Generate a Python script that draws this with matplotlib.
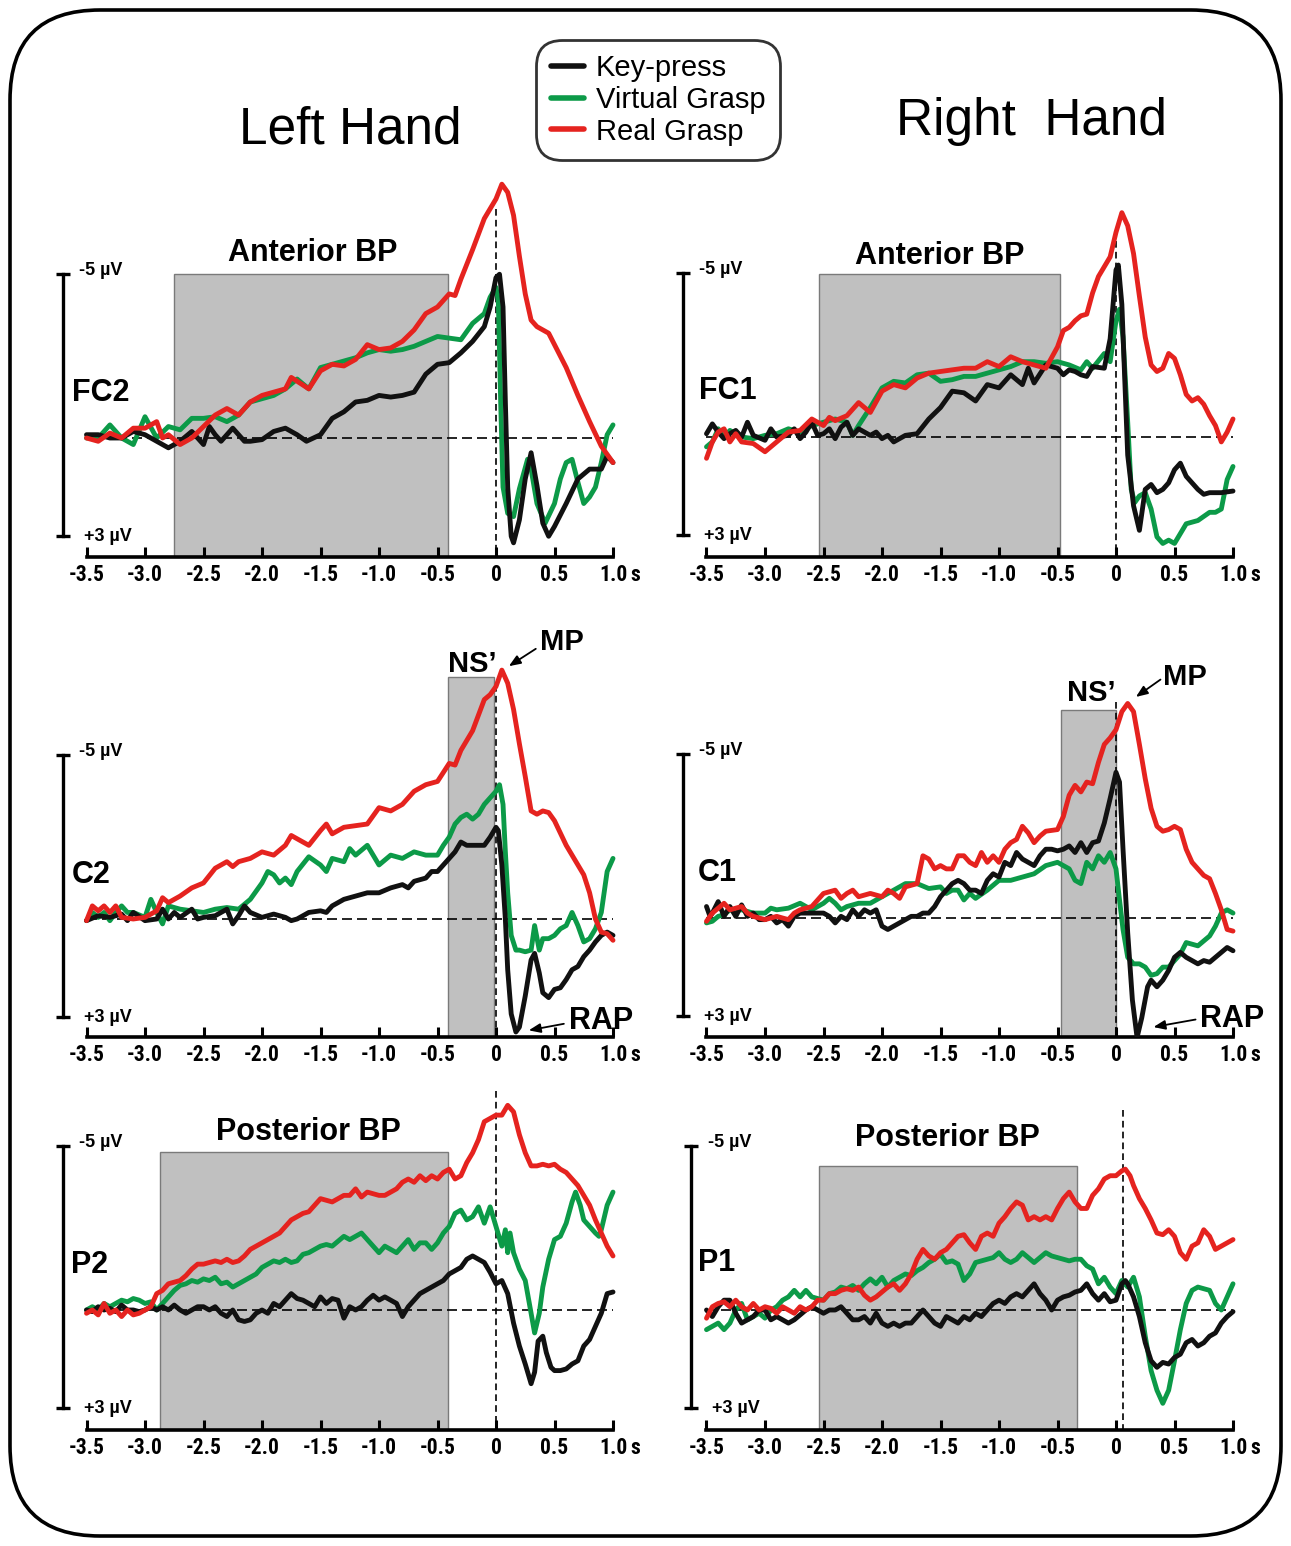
import os
import numpy as np
import matplotlib
matplotlib.use("Agg")
import matplotlib.pyplot as plt
from matplotlib import font_manager
from matplotlib.font_manager import FontProperties
from matplotlib.patches import FancyBboxPatch, Rectangle

W, H = 1291, 1546
names = {f.name for f in font_manager.fontManager.ttflist}
SANS = 'Liberation Sans' if 'Liberation Sans' in names else 'DejaVu Sans'
plt.rcParams['font.family'] = SANS


def narrow_bold():
    # a condensed bold face for the tick labels (the original uses Arial Narrow Bold)
    files = [f.fname for f in font_manager.fontManager.ttflist]
    for key in ['liberationsansnarrow-bold.', 'robotocondensed-bold.', 'firasanscondensed-bold.',
                'asapcondensed-bold.', 'dejavusanscondensed-bold.']:
        for fn in files:
            if os.path.basename(fn).lower().startswith(key):
                return fn
    return None


NARROW_FILE = narrow_bold()


def tick_font(size):
    if NARROW_FILE:
        return FontProperties(fname=NARROW_FILE, size=size)
    return FontProperties(family=SANS, weight='bold', size=size - 1.5)


BLACK = '#111111'
GREEN = '#0c9a48'
RED = '#e5231f'

series_names = ['Key-press', 'Virtual Grasp', 'Real Grasp']
tick_values = [-3.5, -3.0, -2.5, -2.0, -1.5, -1.0, -0.5, 0.0, 0.5, 1.0]
tick_labels = ['-3.5', '-3.0', '-2.5', '-2.0', '-1.5', '-1.0', '-0.5', '0', '0.5', '1.0']

# ---- traces: (time s, amplitude uV), negative is plotted up ----
fc2_key = [(-3.5, -0.1), (-3.4, -0.1), (-3.3, 0.0), (-3.2, 0.0), (-3.1, -0.2), (-3.0, -0.1), (-2.9, 0.1), (-2.8, 0.3),
           (-2.7, 0.1), (-2.6, -0.2), (-2.5, 0.2), (-2.45, -0.35), (-2.4, -0.1), (-2.35, 0.1), (-2.25, -0.3), (-2.15, 0.1),
           (-2.1, 0.1), (-2.0, 0.05), (-1.9, -0.2), (-1.8, -0.3), (-1.7, -0.1), (-1.62, 0.1), (-1.5, -0.1), (-1.4, -0.6),
           (-1.3, -0.8), (-1.2, -1.1), (-1.1, -1.15), (-1.0, -1.3), (-0.9, -1.25), (-0.8, -1.3), (-0.7, -1.4), (-0.6, -1.95),
           (-0.5, -2.25), (-0.4, -2.3), (-0.3, -2.6), (-0.2, -2.95), (-0.1, -3.4), (-0.05, -4.0), (0.0, -4.9), (0.03, -5.0),
           (0.06, -4.0), (0.08, -1.1), (0.1, 1.5), (0.13, 3.0), (0.15, 3.2), (0.2, 2.5), (0.25, 1.25), (0.3, 0.45),
           (0.35, 1.45), (0.4, 2.6), (0.45, 3.0), (0.5, 2.7), (0.6, 2.0), (0.7, 1.25), (0.8, 0.95), (0.9, 0.95),
           (0.95, 0.55), (1.0, 0.75)]
fc2_virtual = [(-3.5, 0.0), (-3.4, 0.0), (-3.3, -0.4), (-3.2, 0.0), (-3.1, 0.2), (-3.0, -0.65), (-2.9, 0.0), (-2.8, -0.35),
               (-2.7, -0.25), (-2.6, -0.6), (-2.5, -0.6), (-2.4, -0.65), (-2.3, -0.5), (-2.2, -0.7), (-2.1, -1.1), (-2.0, -1.2),
               (-1.9, -1.3), (-1.8, -1.5), (-1.7, -1.8), (-1.6, -1.5), (-1.5, -2.15), (-1.4, -2.25), (-1.3, -2.35), (-1.2, -2.45),
               (-1.1, -2.6), (-1.0, -2.7), (-0.9, -2.65), (-0.8, -2.7), (-0.7, -2.8), (-0.6, -2.95), (-0.5, -3.1), (-0.4, -3.05),
               (-0.3, -3.0), (-0.2, -3.5), (-0.1, -3.8), (-0.05, -4.3), (0.0, -4.6), (0.02, -4.2), (0.04, -1.1), (0.06, 1.5),
               (0.1, 2.3), (0.15, 2.4), (0.2, 1.55), (0.27, 0.65), (0.3, 0.95), (0.35, 2.0), (0.42, 2.6), (0.5, 2.0),
               (0.55, 1.25), (0.6, 0.75), (0.65, 0.65), (0.7, 1.35), (0.75, 2.0), (0.8, 1.8), (0.85, 1.5), (0.9, 0.75),
               (0.95, -0.1), (1.0, -0.4)]
fc2_real = [(-3.5, 0.0), (-3.4, 0.1), (-3.3, -0.15), (-3.2, 0.0), (-3.1, -0.3), (-3.0, -0.3), (-2.9, -0.5), (-2.85, 0.0),
            (-2.8, -0.1), (-2.7, 0.2), (-2.6, 0.0), (-2.5, -0.35), (-2.4, -0.7), (-2.3, -0.9), (-2.2, -0.7), (-2.1, -1.1),
            (-2.0, -1.3), (-1.9, -1.4), (-1.8, -1.5), (-1.75, -1.85), (-1.6, -1.5), (-1.5, -2.05), (-1.4, -2.25), (-1.3, -2.2),
            (-1.2, -2.4), (-1.1, -2.85), (-1.0, -2.7), (-0.9, -2.75), (-0.8, -2.95), (-0.7, -3.3), (-0.6, -3.8), (-0.5, -4.0),
            (-0.4, -4.4), (-0.35, -4.35), (-0.3, -4.85), (-0.2, -5.75), (-0.1, -6.7), (0.0, -7.3), (0.05, -7.75), (0.1, -7.5),
            (0.15, -6.8), (0.2, -5.55), (0.25, -4.4), (0.3, -3.6), (0.35, -3.4), (0.4, -3.3), (0.45, -3.2), (0.5, -2.85),
            (0.6, -2.15), (0.7, -1.3), (0.8, -0.5), (0.9, 0.25), (1.0, 0.75)]

fc1_key = [(-3.5, -0.1), (-3.45, -0.4), (-3.4, -0.15), (-3.35, 0.05), (-3.3, -0.1), (-3.25, -0.2), (-3.2, 0.0), (-3.15, -0.45),
           (-3.1, -0.05), (-3.0, 0.1), (-2.95, -0.25), (-2.9, 0.0), (-2.8, -0.05), (-2.75, -0.25), (-2.7, 0.05), (-2.65, -0.15),
           (-2.6, -0.45), (-2.55, -0.05), (-2.5, -0.1), (-2.45, -0.25), (-2.4, 0.05), (-2.35, -0.3), (-2.3, -0.45), (-2.25, -0.05),
           (-2.2, -0.25), (-2.1, -0.05), (-2.05, -0.15), (-2.0, 0.05), (-1.95, -0.05), (-1.9, 0.15), (-1.8, -0.05), (-1.7, -0.1),
           (-1.6, -0.55), (-1.5, -0.9), (-1.4, -1.4), (-1.3, -1.35), (-1.2, -1.1), (-1.1, -1.6), (-1.0, -1.5), (-0.9, -1.9),
           (-0.8, -1.6), (-0.75, -2.1), (-0.7, -1.65), (-0.6, -2.2), (-0.5, -2.1), (-0.45, -1.9), (-0.4, -2.05), (-0.35, -2.0),
           (-0.3, -1.9), (-0.25, -1.85), (-0.2, -2.15), (-0.1, -2.1), (-0.05, -3.0), (0.0, -5.1), (0.02, -5.25), (0.05, -4.05),
           (0.1, 0.55), (0.15, 2.1), (0.2, 2.85), (0.25, 1.6), (0.3, 1.45), (0.35, 1.7), (0.4, 1.6), (0.45, 1.4), (0.5, 1.0),
           (0.55, 0.8), (0.6, 1.2), (0.7, 1.6), (0.75, 1.75), (0.8, 1.7), (0.9, 1.7), (1.0, 1.65)]
fc1_virtual = [(-3.5, 0.3), (-3.45, 0.15), (-3.4, -0.25), (-3.35, 0.0), (-3.3, -0.2), (-3.2, 0.0), (-3.1, 0.05), (-3.0, -0.05),
               (-2.9, -0.1), (-2.8, -0.25), (-2.7, -0.15), (-2.6, -0.35), (-2.5, -0.45), (-2.4, -0.55), (-2.3, -0.45), (-2.25, -0.05),
               (-2.2, -0.35), (-2.1, -0.9), (-2.0, -1.5), (-1.9, -1.7), (-1.8, -1.65), (-1.7, -1.9), (-1.6, -1.95), (-1.5, -1.7),
               (-1.4, -1.75), (-1.3, -1.85), (-1.2, -1.85), (-1.1, -1.95), (-1.0, -2.05), (-0.9, -2.15), (-0.8, -2.3), (-0.7, -2.3),
               (-0.6, -2.25), (-0.5, -2.3), (-0.4, -2.2), (-0.3, -2.05), (-0.25, -2.3), (-0.2, -2.1), (-0.1, -2.55), (-0.05, -2.3),
               (0.0, -3.55), (0.03, -3.9), (0.06, -3.05), (0.1, -0.45), (0.13, 1.6), (0.16, 2.0), (0.2, 1.8), (0.25, 1.7),
               (0.3, 2.2), (0.35, 3.05), (0.4, 3.25), (0.45, 3.15), (0.5, 3.25), (0.55, 2.95), (0.6, 2.65), (0.7, 2.55),
               (0.8, 2.3), (0.85, 2.3), (0.9, 2.2), (0.95, 1.3), (1.0, 0.9)]
fc1_real = [(-3.5, 0.65), (-3.45, 0.15), (-3.4, -0.15), (-3.35, -0.25), (-3.3, 0.15), (-3.25, -0.1), (-3.2, 0.15), (-3.1, 0.2),
            (-3.0, 0.45), (-2.9, 0.15), (-2.8, -0.15), (-2.7, -0.2), (-2.6, -0.55), (-2.5, -0.35), (-2.45, -0.6), (-2.4, -0.5),
            (-2.3, -0.65), (-2.2, -1.05), (-2.1, -0.75), (-2.0, -1.4), (-1.9, -1.6), (-1.8, -1.5), (-1.7, -1.8), (-1.6, -1.95),
            (-1.5, -2.0), (-1.4, -2.05), (-1.3, -2.1), (-1.2, -2.1), (-1.1, -2.3), (-1.0, -2.15), (-0.9, -2.45), (-0.8, -2.3),
            (-0.7, -2.2), (-0.6, -2.1), (-0.5, -2.75), (-0.45, -3.25), (-0.4, -3.35), (-0.35, -3.55), (-0.3, -3.7), (-0.25, -3.75),
            (-0.2, -4.4), (-0.15, -4.9), (-0.1, -5.2), (-0.05, -5.5), (0.0, -6.25), (0.05, -6.85), (0.1, -6.45), (0.15, -5.6),
            (0.2, -4.3), (0.25, -3.05), (0.3, -2.2), (0.35, -2.0), (0.4, -2.1), (0.45, -2.55), (0.5, -2.4), (0.55, -1.9),
            (0.6, -1.3), (0.65, -1.1), (0.7, -1.2), (0.75, -1.0), (0.8, -0.65), (0.85, -0.35), (0.9, 0.15), (0.95, -0.15),
            (1.0, -0.55)]

c2_key = [(-3.5, 0.05), (-3.4, -0.1), (-3.3, -0.05), (-3.2, -0.15), (-3.15, 0.05), (-3.1, -0.2), (-3.0, 0.05), (-2.9, 0.0),
          (-2.85, -0.3), (-2.8, 0.0), (-2.75, -0.2), (-2.7, -0.05), (-2.6, -0.3), (-2.55, 0.0), (-2.5, -0.05), (-2.4, -0.1),
          (-2.3, -0.3), (-2.25, 0.15), (-2.2, -0.1), (-2.15, -0.4), (-2.1, -0.2), (-2.0, -0.05), (-1.9, -0.15), (-1.8, -0.05),
          (-1.75, 0.05), (-1.7, 0.0), (-1.6, -0.2), (-1.5, -0.25), (-1.45, -0.2), (-1.4, -0.4), (-1.3, -0.6), (-1.2, -0.7),
          (-1.1, -0.8), (-1.0, -0.8), (-0.9, -0.95), (-0.8, -1.05), (-0.75, -0.95), (-0.7, -1.15), (-0.6, -1.25), (-0.55, -1.45),
          (-0.5, -1.45), (-0.45, -1.65), (-0.4, -1.85), (-0.35, -2.05), (-0.3, -2.35), (-0.25, -2.25), (-0.2, -2.25), (-0.1, -2.25),
          (-0.05, -2.5), (0.0, -2.8), (0.02, -2.7), (0.05, -1.65), (0.08, 0.0), (0.1, 1.55), (0.13, 2.9), (0.17, 3.45),
          (0.2, 3.3), (0.25, 2.35), (0.3, 1.25), (0.33, 1.05), (0.37, 1.65), (0.4, 2.25), (0.45, 2.4), (0.5, 2.15),
          (0.55, 2.1), (0.6, 1.85), (0.65, 1.55), (0.7, 1.45), (0.75, 1.15), (0.8, 0.95), (0.85, 0.7), (0.9, 0.5),
          (0.95, 0.4), (1.0, 0.5)]
c2_virtual = [(-3.5, 0.05), (-3.45, -0.2), (-3.4, -0.05), (-3.35, -0.2), (-3.3, 0.05), (-3.25, -0.2), (-3.2, -0.4), (-3.15, -0.2),
              (-3.1, -0.2), (-3.0, -0.05), (-2.95, -0.6), (-2.9, -0.2), (-2.85, 0.15), (-2.8, -0.4), (-2.7, -0.3), (-2.6, -0.25),
              (-2.5, -0.2), (-2.4, -0.3), (-2.3, -0.35), (-2.2, -0.3), (-2.1, -0.6), (-2.0, -1.1), (-1.95, -1.45), (-1.9, -1.35),
              (-1.85, -1.1), (-1.8, -1.25), (-1.75, -1.05), (-1.7, -1.45), (-1.6, -1.9), (-1.5, -1.65), (-1.45, -1.45), (-1.4, -1.85),
              (-1.3, -1.75), (-1.25, -2.15), (-1.2, -1.95), (-1.1, -2.25), (-1.0, -1.65), (-0.9, -1.95), (-0.8, -1.85), (-0.7, -2.05),
              (-0.6, -1.95), (-0.5, -1.95), (-0.45, -2.25), (-0.4, -2.5), (-0.35, -2.9), (-0.3, -3.1), (-0.25, -3.2), (-0.2, -3.05),
              (-0.15, -3.2), (-0.1, -3.5), (-0.05, -3.7), (0.0, -3.9), (0.03, -4.1), (0.06, -3.5), (0.08, -2.05), (0.1, -0.8),
              (0.13, 0.5), (0.17, 0.95), (0.2, 0.95), (0.25, 1.0), (0.3, 0.95), (0.33, 0.2), (0.37, 0.95), (0.4, 0.6),
              (0.45, 0.6), (0.5, 0.5), (0.55, 0.3), (0.6, 0.2), (0.65, -0.2), (0.7, 0.2), (0.75, 0.7), (0.8, 0.6),
              (0.85, 0.3), (0.9, -0.2), (0.95, -1.45), (1.0, -1.85)]
c2_real = [(-3.5, 0.05), (-3.45, -0.4), (-3.4, -0.25), (-3.35, -0.4), (-3.3, -0.2), (-3.25, -0.4), (-3.2, -0.05), (-3.1, 0.0),
           (-3.0, -0.05), (-2.9, -0.25), (-2.85, -0.65), (-2.8, -0.5), (-2.7, -0.7), (-2.6, -0.95), (-2.5, -1.1), (-2.4, -1.55),
           (-2.3, -1.75), (-2.25, -1.6), (-2.2, -1.75), (-2.1, -1.85), (-2.0, -2.05), (-1.9, -1.95), (-1.8, -2.25), (-1.75, -2.55),
           (-1.7, -2.45), (-1.6, -2.25), (-1.5, -2.7), (-1.45, -2.9), (-1.4, -2.6), (-1.3, -2.8), (-1.2, -2.85), (-1.1, -2.9),
           (-1.0, -3.4), (-0.9, -3.3), (-0.8, -3.5), (-0.7, -3.9), (-0.6, -4.1), (-0.5, -4.2), (-0.4, -4.75), (-0.35, -4.7),
           (-0.3, -5.15), (-0.2, -5.75), (-0.1, -6.7), (-0.05, -6.85), (0.0, -7.1), (0.05, -7.6), (0.1, -7.2), (0.15, -6.4),
           (0.2, -5.35), (0.25, -4.35), (0.3, -3.3), (0.35, -3.2), (0.4, -3.3), (0.45, -3.25), (0.5, -3.0), (0.6, -2.25),
           (0.7, -1.65), (0.75, -1.35), (0.8, -0.8), (0.85, 0.0), (0.9, 0.4), (0.95, 0.45), (1.0, 0.65)]

c1_key = [(-3.5, -0.35), (-3.47, -0.05), (-3.45, -0.15), (-3.4, -0.5), (-3.35, -0.05), (-3.3, -0.35), (-3.25, -0.05), (-3.2, -0.4),
          (-3.15, -0.05), (-3.1, -0.15), (-3.05, 0.05), (-3.0, 0.05), (-2.95, -0.05), (-2.9, 0.15), (-2.85, 0.05), (-2.8, 0.25),
          (-2.75, -0.05), (-2.7, -0.15), (-2.6, -0.15), (-2.5, -0.15), (-2.45, -0.05), (-2.4, 0.15), (-2.35, -0.05), (-2.3, 0.05),
          (-2.25, -0.25), (-2.2, -0.05), (-2.15, -0.25), (-2.1, -0.15), (-2.05, -0.25), (-2.0, 0.25), (-1.95, 0.35), (-1.9, 0.25),
          (-1.85, 0.15), (-1.8, 0.05), (-1.75, -0.05), (-1.7, -0.05), (-1.65, -0.15), (-1.6, -0.15), (-1.55, -0.35), (-1.5, -0.65),
          (-1.45, -0.85), (-1.4, -1.05), (-1.35, -1.15), (-1.3, -1.05), (-1.25, -0.85), (-1.2, -0.85), (-1.15, -0.75), (-1.1, -1.15),
          (-1.05, -1.35), (-1.0, -1.25), (-0.95, -1.7), (-0.9, -1.6), (-0.85, -2.0), (-0.8, -1.8), (-0.75, -1.7), (-0.7, -1.6),
          (-0.65, -1.9), (-0.6, -2.1), (-0.55, -2.1), (-0.5, -2.05), (-0.45, -2.1), (-0.4, -2.2), (-0.35, -2.0), (-0.3, -2.3),
          (-0.25, -2.0), (-0.2, -2.3), (-0.15, -2.35), (-0.1, -2.9), (-0.05, -3.65), (0.0, -4.45), (0.03, -4.15), (0.06, -2.1),
          (0.1, 0.45), (0.14, 2.5), (0.18, 3.65), (0.22, 3.05), (0.27, 2.1), (0.3, 1.9), (0.35, 2.1), (0.4, 1.9), (0.45, 1.6),
          (0.5, 1.2), (0.55, 1.05), (0.6, 1.2), (0.65, 1.3), (0.7, 1.4), (0.75, 1.3), (0.8, 1.35), (0.85, 1.2), (0.9, 1.05),
          (0.95, 0.9), (1.0, 1.0)]
c1_virtual = [(-3.5, 0.15), (-3.45, 0.1), (-3.4, -0.05), (-3.35, -0.1), (-3.3, -0.25), (-3.2, -0.25), (-3.1, -0.15), (-3.0, -0.15),
              (-2.95, -0.3), (-2.9, -0.25), (-2.8, -0.3), (-2.7, -0.45), (-2.6, -0.25), (-2.5, -0.45), (-2.45, -0.6), (-2.4, -0.45),
              (-2.35, -0.25), (-2.3, -0.35), (-2.2, -0.45), (-2.1, -0.45), (-2.0, -0.65), (-1.9, -0.85), (-1.8, -1.05), (-1.7, -1.05),
              (-1.6, -0.9), (-1.5, -0.95), (-1.45, -0.75), (-1.4, -0.85), (-1.35, -0.85), (-1.3, -0.55), (-1.25, -0.75), (-1.2, -0.6),
              (-1.1, -0.85), (-1.0, -1.15), (-0.9, -1.15), (-0.8, -1.25), (-0.7, -1.35), (-0.6, -1.6), (-0.5, -1.7), (-0.45, -1.6),
              (-0.4, -1.5), (-0.35, -1.15), (-0.3, -1.05), (-0.25, -1.7), (-0.2, -1.5), (-0.15, -1.9), (-0.1, -1.7), (-0.05, -2.0),
              (0.0, -1.5), (0.03, -0.55), (0.06, 0.35), (0.1, 1.2), (0.15, 1.4), (0.2, 1.4), (0.25, 1.5), (0.3, 1.75), (0.35, 1.7),
              (0.4, 1.5), (0.45, 1.5), (0.5, 1.3), (0.55, 1.1), (0.6, 0.75), (0.7, 0.85), (0.75, 0.7), (0.8, 0.55), (0.85, 0.25),
              (0.9, -0.15), (0.95, -0.25), (1.0, -0.15)]
c1_real = [(-3.5, 0.1), (-3.45, -0.15), (-3.4, -0.3), (-3.35, -0.45), (-3.3, -0.25), (-3.2, -0.35), (-3.15, -0.15), (-3.1, -0.05),
           (-3.0, 0.05), (-2.9, -0.05), (-2.8, 0.05), (-2.75, -0.15), (-2.7, -0.25), (-2.6, -0.35), (-2.55, -0.55), (-2.5, -0.75),
           (-2.4, -0.85), (-2.35, -0.6), (-2.3, -0.75), (-2.25, -0.85), (-2.2, -0.65), (-2.1, -0.75), (-2.0, -0.65), (-1.95, -0.85),
           (-1.9, -0.75), (-1.85, -0.6), (-1.8, -0.95), (-1.7, -1.05), (-1.65, -1.9), (-1.6, -1.8), (-1.55, -1.5), (-1.5, -1.6),
           (-1.45, -1.5), (-1.4, -1.5), (-1.35, -1.9), (-1.3, -1.9), (-1.25, -1.7), (-1.2, -1.6), (-1.15, -2.0), (-1.1, -1.7),
           (-1.05, -1.9), (-1.0, -1.7), (-0.95, -2.1), (-0.9, -2.3), (-0.85, -2.4), (-0.8, -2.8), (-0.75, -2.6), (-0.7, -2.3),
           (-0.65, -2.5), (-0.6, -2.65), (-0.5, -2.7), (-0.45, -3.1), (-0.4, -3.75), (-0.35, -4.05), (-0.3, -3.85), (-0.25, -4.15),
           (-0.2, -4.1), (-0.15, -4.75), (-0.1, -5.3), (-0.05, -5.5), (0.0, -5.75), (0.05, -6.3), (0.1, -6.55), (0.15, -6.3),
           (0.2, -5.3), (0.25, -4.25), (0.3, -3.35), (0.35, -2.8), (0.4, -2.65), (0.45, -2.7), (0.5, -2.8), (0.55, -2.7),
           (0.6, -2.1), (0.65, -1.7), (0.7, -1.5), (0.75, -1.3), (0.8, -1.2), (0.85, -0.75), (0.9, -0.25), (0.95, 0.35),
           (1.0, 0.4)]

p2_key = [(-3.5, 0.0), (-3.45, 0.05), (-3.4, -0.1), (-3.35, 0.0), (-3.3, -0.05), (-3.25, 0.05), (-3.2, -0.15), (-3.15, 0.0),
          (-3.1, 0.0), (-3.05, 0.05), (-3.0, 0.0), (-2.95, -0.1), (-2.9, 0.0), (-2.85, -0.1), (-2.8, 0.0), (-2.75, -0.15),
          (-2.7, 0.0), (-2.65, 0.1), (-2.6, 0.0), (-2.55, -0.1), (-2.5, -0.1), (-2.45, 0.0), (-2.4, -0.1), (-2.35, 0.1),
          (-2.3, 0.2), (-2.25, 0.0), (-2.2, 0.3), (-2.15, 0.35), (-2.1, 0.3), (-2.05, 0.1), (-2.0, 0.0), (-1.95, 0.1),
          (-1.9, -0.2), (-1.85, -0.1), (-1.8, -0.3), (-1.75, -0.5), (-1.7, -0.35), (-1.65, -0.3), (-1.6, -0.2), (-1.55, -0.1),
          (-1.5, -0.4), (-1.45, -0.2), (-1.4, -0.35), (-1.35, -0.3), (-1.3, 0.25), (-1.25, -0.1), (-1.2, 0.0), (-1.15, -0.1),
          (-1.1, -0.3), (-1.05, -0.45), (-1.0, -0.3), (-0.95, -0.4), (-0.9, -0.3), (-0.85, -0.2), (-0.8, 0.2), (-0.75, -0.1),
          (-0.7, -0.3), (-0.65, -0.5), (-0.6, -0.6), (-0.55, -0.7), (-0.5, -0.8), (-0.45, -0.9), (-0.4, -1.1), (-0.35, -1.2),
          (-0.3, -1.3), (-0.25, -1.55), (-0.2, -1.65), (-0.15, -1.55), (-0.1, -1.45), (-0.05, -1.15), (0.0, -0.8), (0.05, -0.9),
          (0.1, -0.5), (0.15, 0.4), (0.2, 1.1), (0.25, 1.65), (0.3, 2.25), (0.33, 1.9), (0.36, 0.95), (0.4, 0.8), (0.43, 1.3),
          (0.47, 1.75), (0.5, 1.85), (0.55, 1.85), (0.6, 1.8), (0.65, 1.65), (0.7, 1.55), (0.75, 1.1), (0.8, 0.9), (0.85, 0.5),
          (0.9, 0.1), (0.95, -0.5), (1.0, -0.55)]
p2_virtual = [(-3.5, 0.0), (-3.45, -0.1), (-3.4, 0.0), (-3.35, -0.2), (-3.3, -0.1), (-3.25, -0.2), (-3.2, -0.3), (-3.15, -0.25),
              (-3.1, -0.35), (-3.05, -0.3), (-3.0, -0.2), (-2.95, -0.25), (-2.9, 0.0), (-2.85, -0.2), (-2.8, -0.4), (-2.75, -0.6),
              (-2.7, -0.75), (-2.65, -0.8), (-2.6, -0.9), (-2.55, -0.85), (-2.5, -0.95), (-2.45, -0.9), (-2.4, -1.0), (-2.35, -0.8),
              (-2.3, -0.85), (-2.25, -0.7), (-2.2, -0.8), (-2.15, -0.9), (-2.1, -1.0), (-2.05, -1.1), (-2.0, -1.3), (-1.95, -1.4),
              (-1.9, -1.5), (-1.85, -1.45), (-1.8, -1.55), (-1.75, -1.45), (-1.7, -1.5), (-1.65, -1.7), (-1.6, -1.75), (-1.55, -1.85),
              (-1.5, -1.95), (-1.45, -2.0), (-1.4, -1.95), (-1.35, -2.1), (-1.3, -2.25), (-1.25, -2.15), (-1.2, -2.25), (-1.15, -2.35),
              (-1.1, -2.15), (-1.05, -1.95), (-1.0, -1.75), (-0.95, -1.95), (-0.9, -1.85), (-0.85, -1.75), (-0.8, -1.95), (-0.75, -2.15),
              (-0.7, -1.85), (-0.65, -2.05), (-0.6, -2.05), (-0.55, -1.85), (-0.5, -2.05), (-0.45, -2.35), (-0.4, -2.55), (-0.35, -2.95),
              (-0.3, -3.05), (-0.25, -2.75), (-0.2, -2.85), (-0.15, -3.15), (-0.1, -2.65), (-0.05, -3.15), (0.0, -2.55), (0.05, -1.95),
              (0.08, -2.45), (0.1, -1.75), (0.12, -2.35), (0.15, -1.75), (0.2, -1.25), (0.25, -0.9), (0.3, 0.1), (0.33, 0.7),
              (0.37, 0.1), (0.4, -0.7), (0.45, -1.55), (0.5, -2.15), (0.55, -2.25), (0.6, -2.65), (0.65, -3.3), (0.68, -3.6),
              (0.72, -3.2), (0.75, -2.75), (0.8, -2.55), (0.85, -2.35), (0.88, -2.25), (0.9, -2.45), (0.95, -3.2), (1.0, -3.6)]
p2_real = [(-3.5, 0.1), (-3.45, 0.0), (-3.4, 0.15), (-3.35, -0.2), (-3.3, 0.1), (-3.25, 0.0), (-3.2, 0.2), (-3.15, 0.0),
           (-3.1, 0.15), (-3.05, 0.1), (-3.0, 0.0), (-2.95, -0.1), (-2.9, -0.5), (-2.85, -0.6), (-2.8, -0.8), (-2.75, -0.85),
           (-2.7, -0.9), (-2.65, -1.05), (-2.6, -1.25), (-2.55, -1.4), (-2.5, -1.4), (-2.45, -1.45), (-2.4, -1.5), (-2.35, -1.45),
           (-2.3, -1.55), (-2.25, -1.45), (-2.2, -1.5), (-2.15, -1.65), (-2.1, -1.85), (-2.05, -1.95), (-2.0, -2.05), (-1.95, -2.15),
           (-1.9, -2.25), (-1.85, -2.35), (-1.8, -2.55), (-1.75, -2.75), (-1.7, -2.85), (-1.65, -2.95), (-1.6, -3.0), (-1.55, -3.2),
           (-1.5, -3.4), (-1.45, -3.35), (-1.4, -3.3), (-1.35, -3.4), (-1.3, -3.5), (-1.25, -3.5), (-1.2, -3.7), (-1.15, -3.45),
           (-1.1, -3.6), (-1.05, -3.55), (-1.0, -3.5), (-0.95, -3.5), (-0.9, -3.6), (-0.85, -3.7), (-0.8, -3.9), (-0.75, -4.0),
           (-0.7, -3.9), (-0.65, -4.1), (-0.6, -3.95), (-0.55, -4.1), (-0.5, -4.0), (-0.45, -4.2), (-0.4, -4.3), (-0.35, -4.0),
           (-0.3, -4.1), (-0.25, -4.5), (-0.2, -4.8), (-0.15, -5.2), (-0.1, -5.75), (-0.05, -5.85), (0.0, -5.95), (0.05, -5.95),
           (0.1, -6.25), (0.15, -6.05), (0.2, -5.35), (0.25, -4.8), (0.3, -4.4), (0.35, -4.4), (0.4, -4.45), (0.45, -4.4),
           (0.5, -4.45), (0.55, -4.3), (0.6, -4.2), (0.65, -4.0), (0.7, -3.8), (0.75, -3.5), (0.8, -3.2), (0.85, -2.75),
           (0.9, -2.35), (0.95, -1.95), (1.0, -1.65)]

p1_key = [(-3.5, 0.0), (-3.45, 0.2), (-3.4, -0.1), (-3.35, -0.3), (-3.3, -0.3), (-3.25, 0.1), (-3.2, 0.4), (-3.15, 0.3),
          (-3.1, 0.2), (-3.05, 0.0), (-3.0, 0.0), (-2.95, 0.3), (-2.9, 0.2), (-2.85, 0.3), (-2.8, 0.4), (-2.75, 0.3),
          (-2.7, 0.15), (-2.65, 0.0), (-2.6, -0.1), (-2.55, 0.0), (-2.5, 0.1), (-2.45, 0.0), (-2.4, 0.0), (-2.35, -0.1),
          (-2.3, 0.1), (-2.25, 0.3), (-2.2, 0.3), (-2.15, 0.2), (-2.1, 0.4), (-2.05, 0.1), (-2.0, 0.4), (-1.95, 0.5),
          (-1.9, 0.4), (-1.85, 0.5), (-1.8, 0.4), (-1.75, 0.4), (-1.7, 0.2), (-1.65, 0.0), (-1.6, 0.2), (-1.55, 0.4),
          (-1.5, 0.5), (-1.45, 0.2), (-1.4, 0.3), (-1.35, 0.4), (-1.3, 0.2), (-1.25, 0.3), (-1.2, 0.1), (-1.15, 0.2),
          (-1.1, 0.0), (-1.05, -0.2), (-1.0, -0.3), (-0.95, -0.2), (-0.9, -0.4), (-0.85, -0.5), (-0.8, -0.4), (-0.75, -0.6),
          (-0.7, -0.8), (-0.65, -0.5), (-0.6, -0.3), (-0.55, 0.0), (-0.5, -0.3), (-0.45, -0.4), (-0.4, -0.45), (-0.35, -0.55),
          (-0.3, -0.6), (-0.25, -0.8), (-0.2, -0.5), (-0.15, -0.3), (-0.1, -0.5), (-0.05, -0.25), (0.0, -0.3), (0.05, -0.8),
          (0.08, -0.9), (0.1, -0.8), (0.15, -0.4), (0.2, 0.2), (0.25, 1.0), (0.3, 1.55), (0.35, 1.75), (0.4, 1.6), (0.45, 1.65),
          (0.5, 1.45), (0.55, 1.35), (0.6, 1.0), (0.65, 0.9), (0.7, 1.1), (0.75, 1.0), (0.8, 0.8), (0.85, 0.7), (0.9, 0.4),
          (0.95, 0.2), (1.0, 0.05)]
p1_virtual = [(-3.5, 0.6), (-3.45, 0.5), (-3.4, 0.4), (-3.35, 0.6), (-3.3, 0.4), (-3.25, 0.0), (-3.2, -0.2), (-3.15, 0.3),
              (-3.1, 0.2), (-3.05, 0.1), (-3.0, 0.25), (-2.95, 0.0), (-2.9, -0.1), (-2.85, -0.3), (-2.8, -0.4), (-2.75, -0.6),
              (-2.7, -0.4), (-2.65, -0.6), (-2.6, -0.4), (-2.55, -0.35), (-2.5, -0.3), (-2.45, -0.5), (-2.4, -0.55), (-2.35, -0.7),
              (-2.3, -0.65), (-2.25, -0.75), (-2.2, -0.6), (-2.15, -0.8), (-2.1, -0.95), (-2.05, -0.8), (-2.0, -1.0), (-1.95, -0.7),
              (-1.9, -0.9), (-1.85, -1.0), (-1.8, -1.1), (-1.75, -1.05), (-1.7, -1.2), (-1.65, -1.3), (-1.6, -1.45), (-1.55, -1.55),
              (-1.5, -1.7), (-1.45, -1.45), (-1.4, -1.5), (-1.35, -1.4), (-1.3, -0.9), (-1.25, -1.1), (-1.2, -1.45), (-1.15, -1.5),
              (-1.1, -1.55), (-1.05, -1.6), (-1.0, -1.75), (-0.95, -1.55), (-0.9, -1.45), (-0.85, -1.55), (-0.8, -1.75), (-0.75, -1.6),
              (-0.7, -1.45), (-0.65, -1.6), (-0.6, -1.75), (-0.55, -1.65), (-0.5, -1.6), (-0.45, -1.55), (-0.4, -1.5), (-0.35, -1.55),
              (-0.3, -1.55), (-0.25, -1.35), (-0.2, -1.25), (-0.15, -0.8), (-0.1, -1.0), (-0.05, -0.7), (0.0, -0.5), (0.05, -0.9),
              (0.1, -0.7), (0.15, -1.0), (0.2, -0.4), (0.25, 0.8), (0.3, 1.85), (0.35, 2.45), (0.4, 2.85), (0.45, 2.45),
              (0.5, 1.55), (0.55, 0.6), (0.6, -0.2), (0.65, -0.6), (0.7, -0.7), (0.75, -0.65), (0.8, -0.6), (0.85, -0.2),
              (0.9, 0.0), (0.95, -0.4), (1.0, -0.8)]
p1_real = [(-3.5, 0.25), (-3.45, -0.1), (-3.4, -0.2), (-3.35, -0.25), (-3.3, -0.1), (-3.25, -0.3), (-3.2, -0.1), (-3.15, 0.0),
           (-3.1, -0.2), (-3.05, 0.0), (-3.0, -0.1), (-2.95, -0.05), (-2.9, 0.1), (-2.85, -0.1), (-2.8, 0.0), (-2.75, 0.1),
           (-2.7, -0.1), (-2.65, 0.0), (-2.6, -0.1), (-2.55, -0.3), (-2.5, -0.3), (-2.45, -0.5), (-2.4, -0.5), (-2.35, -0.6),
           (-2.3, -0.65), (-2.25, -0.6), (-2.2, -0.7), (-2.15, -0.45), (-2.1, -0.3), (-2.05, -0.4), (-2.0, -0.55), (-1.95, -0.7),
           (-1.9, -0.8), (-1.85, -0.6), (-1.8, -0.8), (-1.75, -1.1), (-1.7, -1.55), (-1.65, -1.85), (-1.6, -1.65), (-1.55, -1.55),
           (-1.5, -1.75), (-1.45, -1.85), (-1.4, -2.05), (-1.35, -2.25), (-1.3, -2.3), (-1.25, -2.05), (-1.2, -1.85), (-1.15, -2.25),
           (-1.1, -2.35), (-1.05, -2.25), (-1.0, -2.65), (-0.95, -2.85), (-0.9, -3.1), (-0.85, -3.3), (-0.8, -3.2), (-0.75, -2.75),
           (-0.7, -2.85), (-0.65, -2.75), (-0.6, -2.85), (-0.55, -2.75), (-0.5, -3.1), (-0.45, -3.4), (-0.4, -3.6), (-0.35, -3.3),
           (-0.3, -3.1), (-0.25, -3.1), (-0.2, -3.5), (-0.15, -3.7), (-0.1, -4.0), (-0.05, -4.1), (0.0, -4.1), (0.05, -4.25),
           (0.08, -4.3), (0.12, -4.1), (0.15, -3.8), (0.2, -3.4), (0.25, -3.1), (0.3, -2.75), (0.35, -2.35), (0.4, -2.3),
           (0.45, -2.45), (0.5, -2.25), (0.55, -1.75), (0.6, -1.55), (0.65, -1.95), (0.7, -2.05), (0.75, -2.45), (0.8, -2.25),
           (0.85, -1.85), (0.9, -1.95), (0.95, -2.05), (1.0, -2.15)]

# shaded analysis windows: (start s, end s, top uV)
fc2_window = (-2.75, -0.41, -5.0)
fc1_window = (-2.54, -0.48, -4.97)
c2_window = (-0.41, -0.02, -7.4)
c1_window = (-0.47, 0.0, -6.34)
p2_window = (-2.87, -0.41, -4.82)
p1_window = (-2.54, -0.335, -4.39)

# ---- layout (pixels of the 1291x1546 figure) ----
PX_S = 117.0
PX_UV = 32.75
T0, T1 = -3.85, 1.25
VTOP = -8.9

fig = plt.figure(figsize=(W / 100, H / 100), dpi=100)
bg = fig.add_axes([0, 0, 1, 1])
bg.set_xlim(0, W)
bg.set_ylim(H, 0)
bg.axis('off')
bg.add_patch(FancyBboxPatch((10, 10), W - 20, H - 20, boxstyle='round,pad=0,rounding_size=90',
                            fc='white', ec='black', lw=2.6))
bg.text(350, 130, 'Left Hand', fontsize=37, ha='center', va='center')
bg.text(1032, 122, 'Right  Hand', fontsize=37, ha='center', va='center')


def make_panel(x0, base, axis_y):
    left = x0 + PX_S * T0
    right = x0 + PX_S * T1
    top = base + PX_UV * VTOP
    ax = fig.add_axes([left / W, 1 - axis_y / H, (right - left) / W, (axis_y - top) / H])
    ax.set_xlim(T0, T1)
    ax.set_ylim((axis_y - base) / PX_UV, VTOP)
    ax.patch.set_visible(False)
    for s in ['top', 'right', 'left']:
        ax.spines[s].set_visible(False)
    ax.spines['bottom'].set_linewidth(2.6)
    ax.spines['bottom'].set_bounds(-3.5, 1.0)
    ax.set_yticks([])
    ax.set_xticks(tick_values)
    ax.set_xticklabels(tick_labels, fontproperties=tick_font(15.5))
    ax.tick_params(axis='x', direction='in', length=7, width=2.2, pad=5)
    ax.annotate('s', xy=(1.0, 0), xycoords=('data', 'axes fraction'), xytext=(12.5, -5),
                textcoords='offset points', ha='left', va='top', fontproperties=tick_font(15.5))
    return ax


panels = [
    dict(x0=496, base=438, axis=557, label='FC2', lab=(-3.38, -1.37), data=(fc2_key, fc2_virtual, fc2_real),
         win=fc2_window, vx=0.0, vtop=-7.0, bar=-3.70, region='Anterior BP', reg=(-1.57, -5.65)),
    dict(x0=1116, base=437, axis=557, label='FC1', lab=(-3.32, -1.39), data=(fc1_key, fc1_virtual, fc1_real),
         win=fc1_window, vx=0.0, vtop=-6.0, bar=-3.70, region='Anterior BP', reg=(-1.51, -5.53)),
    dict(x0=496, base=919, axis=1037, label='C2', lab=(-3.46, -1.34), data=(c2_key, c2_virtual, c2_real),
         win=c2_window, vx=0.0, vtop=-7.15, bar=-3.70),
    dict(x0=1116, base=918, axis=1037, label='C1', lab=(-3.41, -1.38), data=(c1_key, c1_virtual, c1_real),
         win=c1_window, vx=0.0, vtop=-6.6, bar=-3.70),
    dict(x0=496, base=1310, axis=1430, label='P2', lab=(-3.47, -1.38), data=(p2_key, p2_virtual, p2_real),
         win=p2_window, vx=0.0, vtop=-6.7, bar=-3.70, region='Posterior BP', reg=(-1.6, -5.43)),
    dict(x0=1116, base=1310, axis=1430, label='P1', lab=(-3.41, -1.44), data=(p1_key, p1_virtual, p1_real),
         win=p1_window, vx=0.062, vtop=-6.1, bar=-3.63, region='Posterior BP', reg=(-1.44, -5.25)),
]

colors = [BLACK, GREEN, RED]
zorders = [4, 3, 5]
legend_lines = []
axes = []
for p in panels:
    ax = make_panel(p['x0'], p['base'], p['axis'])
    axes.append(ax)
    a0, a1, atop = p['win']
    ybot = ax.get_ylim()[0]
    ax.add_patch(Rectangle((a0, atop), a1 - a0, ybot - atop, fc='#c0c0c0', ec='#7a7a7a', lw=1.0, zorder=1))
    ax.hlines(0, -3.5, 1.0, colors='black', lw=1.2, linestyles=(0, (6, 3)), zorder=2)
    ax.vlines(p['vx'], p['vtop'], ybot, colors='black', lw=1.2, linestyles=(0, (4, 2.5)), zorder=2)
    for pts, c, z, nm in zip(p['data'], colors, zorders, series_names):
        arr = np.array(pts)
        ln, = ax.plot(arr[:, 0], arr[:, 1], color=c, lw=3.5, zorder=z, solid_joinstyle='round',
                      solid_capstyle='round', label=nm)
        if p is panels[0]:
            legend_lines.append(ln)
    # microvolt scale bar
    bx = p['bar']
    ax.plot([bx, bx], [-5, 3], color='black', lw=2.4, clip_on=False)
    ax.hlines([-5, 3], bx - 0.06, bx + 0.06, colors='black', lw=2.4, clip_on=False)
    ax.text(bx + 0.14, -5.1, '-5 \u00b5V', fontsize=13, fontweight='bold', ha='left', va='center')
    ax.text(bx + 0.18, 3.0, '+3 \u00b5V', fontsize=13, fontweight='bold', ha='left', va='center')
    ax.text(p['lab'][0], p['lab'][1], p['label'], fontsize=22, fontweight='bold', ha='center', va='center')
    if 'region' in p:
        ax.text(p['reg'][0], p['reg'][1], p['region'], fontsize=22, fontweight='bold', ha='center', va='center')

arrow_kw = dict(arrowstyle='-|>,head_length=0.7,head_width=0.28', lw=1.3, color='black', shrinkA=0, shrinkB=0)
ax = axes[2]
ax.text(-0.2, -7.8, 'NS\u2019', fontsize=21, fontweight='bold', ha='center', va='center')
ax.text(0.56, -8.45, 'MP', fontsize=21, fontweight='bold', ha='center', va='center')
ax.annotate('', xy=(0.11, -7.72), xytext=(0.34, -8.25), arrowprops=arrow_kw)
ax.text(0.9, 3.12, 'RAP', fontsize=22, fontweight='bold', ha='center', va='center')
ax.annotate('', xy=(0.28, 3.4), xytext=(0.58, 3.2), arrowprops=arrow_kw)

ax = axes[3]
ax.text(-0.21, -6.88, 'NS\u2019', fontsize=21, fontweight='bold', ha='center', va='center')
ax.text(0.59, -7.36, 'MP', fontsize=21, fontweight='bold', ha='center', va='center')
ax.annotate('', xy=(0.17, -6.75), xytext=(0.38, -7.28), arrowprops=arrow_kw)
ax.text(0.99, 3.08, 'RAP', fontsize=22, fontweight='bold', ha='center', va='center')
ax.annotate('', xy=(0.32, 3.33), xytext=(0.68, 3.1), arrowprops=arrow_kw)

leg = bg.legend(legend_lines, series_names, loc='center', bbox_to_anchor=(658, 100),
                bbox_transform=bg.transData, fontsize=21, frameon=True, fancybox=True,
                handlelength=1.15, handletextpad=0.4, labelspacing=0.12, borderpad=0.3,
                borderaxespad=0)
frame = leg.get_frame()
frame.set_edgecolor('black')
frame.set_linewidth(2.0)
frame.set_boxstyle('round,pad=0.2,rounding_size=0.9')
for ln in leg.get_lines():
    ln.set_linewidth(4)

fig.savefig('out.png', dpi=100)
